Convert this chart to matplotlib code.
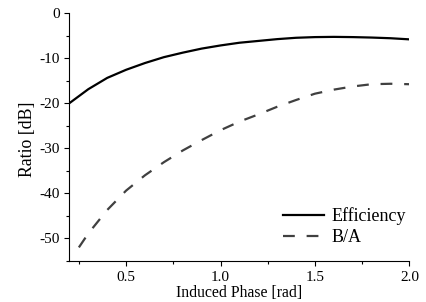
import matplotlib
matplotlib.use("Agg")
import matplotlib.pyplot as plt
from matplotlib.ticker import MultipleLocator

plt.rcParams['font.family'] = ['Liberation Serif', 'DejaVu Serif']
plt.rcParams['axes.unicode_minus'] = False
plt.rcParams['lines.scale_dashes'] = False

eff_x = [0.2, 0.3, 0.4, 0.5, 0.6, 0.7, 0.8, 0.9, 1.0, 1.1, 1.2, 1.3, 1.4, 1.5, 1.6, 1.7, 1.8, 1.9, 2.0]
eff_y = [-20.0, -16.9, -14.4, -12.6, -11.1, -9.8, -8.8, -7.9, -7.2, -6.6, -6.2, -5.8, -5.5, -5.35, -5.3, -5.35, -5.45, -5.6, -5.85]

ba_x = [0.25, 0.3, 0.4, 0.5, 0.6, 0.7, 0.8, 0.9, 1.0, 1.1, 1.2, 1.3, 1.4, 1.5, 1.6, 1.7, 1.8, 1.9, 2.0]
ba_y = [-52.0, -48.9, -43.7, -39.4, -36.0, -33.1, -30.5, -28.2, -26.0, -24.1, -22.5, -20.8, -19.3, -17.9, -17.0, -16.3, -15.8, -15.7, -15.8]

fig = plt.figure(figsize=(4.26, 3.02), dpi=100)
ax = fig.add_axes([0.163, 0.136, 0.798, 0.821])

ax.plot(eff_x, eff_y, color='black', lw=1.6, label='Efficiency')
ax.plot(ba_x, ba_y, color='#404040', lw=1.6, dashes=(8.5, 8.5), label='B/A')

ax.set_xlim(0.2, 2.0)
ax.set_ylim(-55, 0)
ax.xaxis.set_major_locator(MultipleLocator(0.5))
ax.xaxis.set_minor_locator(MultipleLocator(0.25))
ax.yaxis.set_major_locator(MultipleLocator(10))
ax.yaxis.set_minor_locator(MultipleLocator(5))
ax.tick_params(which='major', direction='out', length=3.5, width=0.8, labelsize=11)
ax.tick_params(which='minor', direction='out', length=2.2, width=0.8)
for s in ['top', 'right']:
    ax.spines[s].set_visible(False)
ax.set_xlabel('Induced Phase [rad]', fontsize=11.3, labelpad=1)
ax.set_ylabel('Ratio [dB]', fontsize=12.8, labelpad=4)
ax.yaxis.set_label_coords(-0.097, 0.49)

ax.legend(loc='center left', frameon=False, fontsize=13, handlelength=2.3,
          bbox_to_anchor=(0.628, 0.138), handletextpad=0.4, labelspacing=0.2,
          borderpad=0, borderaxespad=0)

fig.savefig('out.png', dpi=100)
